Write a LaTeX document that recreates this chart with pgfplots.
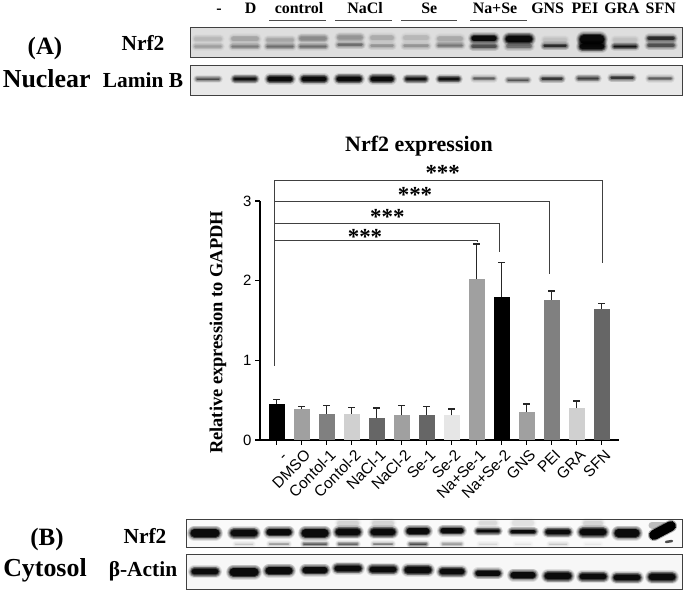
\documentclass[border=0pt]{standalone}
\usepackage{fontspec}
\setmainfont{Liberation Sans}
\newfontfamily\tms{Liberation Serif}
\usepackage{pgfplots}
\pgfplotsset{compat=1.18}

% one stroke of a blot band
\newcommand\bandstroke[2]{%
  \noexpand\addplot[forget plot,black,line cap=round,line width=#1bp,opacity=#2] coordinates {(\bl,\by)(\br,\by)};}
% one blot band: x centre, y, half width, half height, darkness 0..1
\newcommand\band[5]{%
  \edef\bl{\fpeval{#1-#3+#4}}\edef\br{\fpeval{#1+#3-#4}}\edef\by{#2}%
  \edef\tmp{%
    \bandstroke{\fpeval{2*#4+6}}{\fpeval{0.10*#5}}
    \bandstroke{\fpeval{2*#4+4.5}}{\fpeval{0.14*#5}}
    \bandstroke{\fpeval{2*#4+3}}{\fpeval{0.20*#5}}
    \bandstroke{\fpeval{2*#4+1.5}}{\fpeval{0.30*#5}}
    \bandstroke{\fpeval{2*#4}}{\fpeval{0.45*#5}}
    \bandstroke{\fpeval{max(2*#4-1.5,0.5)}}{\fpeval{0.8*#5*#5}}
  }\tmp}

% one bar of the chart: x, value, error, colour
\newcommand\nrfbar[4]{%
  \addplot[ybar,bar width=16bp,bar shift=0pt,fill=#4,draw=none,
    error bars/.cd,y dir=plus,y explicit,
    error bar style={black!85,line width=1.3bp},
    error mark options={rotate=90,mark size=3.5bp,line width=1.3bp,black!85}]
    coordinates {(#1,#2) +- (0,#3)};}

\begin{document}
\begin{tikzpicture}
\useasboundingbox (0,0) rectangle (685bp,592bp);

% blots and their labels, in image pixels
\begin{axis}[at={(0,0)},anchor=south west,scale only axis,width=685bp,height=592bp,
  xmin=0,xmax=685,ymin=0,ymax=592,y dir=reverse,hide axis,clip=false]

\fill[black!13] (axis cs:190.7,27.3) rectangle (axis cs:682.7,57.3);
\fill[black!9] (axis cs:190.7,65.3) rectangle (axis cs:682.7,96);
\fill[black!2] (axis cs:186,519.7) rectangle (axis cs:682.7,547.7);
\fill[black!3] (axis cs:186,554.7) rectangle (axis cs:682.7,589.7);

% Nuclear Nrf2
\band{208}{39}{14}{2}{.13} \band{208}{46.5}{14}{1.5}{.22}
\band{245}{39}{14}{2.5}{.2} \band{245}{46.5}{14}{1.5}{.36}
\band{280}{40}{14}{2}{.2} \band{280}{46.5}{14}{1.5}{.42}
\band{313}{38.5}{14}{2.5}{.3} \band{313}{46.5}{14}{1.5}{.42}
\band{350}{37.5}{13}{2.5}{.26} \band{350}{45}{13}{1.5}{.42}
\band{382}{38}{12}{2.5}{.17} \band{382}{46}{12}{1.5}{.26}
\band{416}{38}{13}{2.5}{.13} \band{416}{46}{13}{1.5}{.26}
\band{450}{39}{13}{2.5}{.18} \band{450}{45.5}{13}{1.5}{.38}
\band{484}{38.5}{13}{3}{1} \band{484}{46.5}{13}{2}{.55}
\band{519}{39}{14}{4}{1} \band{519}{46.5}{13}{2}{.4}
\band{555}{40}{12}{2}{.1} \band{555}{46}{12}{1.5}{.75}
\band{592}{39.5}{13}{5}{1} \band{592}{46.5}{13}{3.5}{1}
\band{625}{40}{12}{2}{.1} \band{625}{46.5}{12}{1.5}{.9}
\band{661}{38.5}{14}{2}{.75} \band{661}{45.5}{14}{2}{.55}

% Nuclear Lamin B
\band{208}{79}{12}{1.2}{.6}
\band{245}{79}{12}{2.2}{.95}
\band{280}{79}{13}{2.8}{1}
\band{314}{79}{13}{2.8}{1}
\band{349}{79}{13}{3}{1}
\band{382}{79}{12}{3}{1}
\band{416}{79}{11}{2.2}{.95}
\band{449}{79}{11}{1.8}{.95}
\band{484}{78.5}{11}{1.2}{.5}
\band{518}{80}{11}{1.2}{.55}
\band{552}{79}{11}{1.5}{.7}
\band{588}{78.5}{11}{1.5}{.65}
\band{622}{78}{12}{1.5}{.7}
\band{660}{78.5}{12}{1.2}{.5}

% Cytosol Nrf2
\band{348}{523}{11}{2.5}{.12} \band{383}{523}{11}{2.5}{.12}
\band{488}{523}{9}{2}{.1} \band{523}{523}{11}{3}{.08} \band{593}{523}{10}{2.5}{.12}
\band{205}{533}{15}{4.5}{1}
\band{244}{533}{14}{4}{1}
\band{279}{532}{13}{3.5}{1}
\band{315}{533}{14}{4.5}{1}
\band{348}{532}{13}{4}{1}
\band{383}{532}{13}{4}{1}
\band{418}{531}{12}{3.5}{1}
\band{452}{530.5}{12}{3}{1}
\band{488}{531}{12}{2}{1}
\band{523}{531.5}{13}{2}{1}
\band{558}{532}{13}{3}{1}
\band{593}{532}{14}{4}{1}
\band{627}{533}{13}{4.5}{1}
\band{244}{544}{9}{.5}{.15} \band{279}{544}{10}{.6}{.3} \band{315}{544}{12}{.8}{.55}
\band{348}{544}{10}{.8}{.5} \band{383}{544}{10}{.7}{.4} \band{418}{544}{9}{1}{.6}
\band{452}{544}{10}{.8}{.3} \band{488}{544}{9}{.5}{.1} \band{523}{544}{8}{.5}{.06}
\band{558}{544}{9}{.5}{.15} \band{593}{544}{8}{.5}{.05}
\addplot[forget plot,black!50,line cap=round,line width=7bp,opacity=.5] coordinates {(652,525)(664,525)};
\addplot[forget plot,black,line cap=round,line width=12bp,opacity=.3] coordinates {(654,535)(671,526)};
\addplot[forget plot,black,line cap=round,line width=10bp] coordinates {(654,535)(671,526)};
\addplot[forget plot,black!70,line cap=round,line width=2.5bp] coordinates {(666,542)(672,541)};

% Cytosol actin
\band{205}{571.7}{14}{3.5}{1}
\band{244}{572}{15}{4.5}{1}
\band{279}{570.7}{14}{4}{1}
\band{315}{570}{13}{3.5}{1}
\band{348}{568.3}{14}{3.5}{1}
\band{383}{569.3}{14}{3.5}{1}
\band{418}{570}{14}{3.8}{1}
\band{452}{571.7}{13}{3.5}{1}
\band{488}{573.3}{13}{3}{1}
\band{523}{575}{13}{3.5}{1}
\band{558}{576}{14}{4}{1}
\band{593}{576.7}{14}{3.5}{1}
\band{627}{577.7}{14}{3.5}{1}
\band{662}{577}{14}{4}{1}

\draw[black!75,line width=1bp] (axis cs:190.7,27.3) rectangle (axis cs:682.7,57.3);
\draw[black!75,line width=1bp] (axis cs:190.7,65.3) rectangle (axis cs:682.7,96);
\draw[black!75,line width=1bp] (axis cs:186,519.7) rectangle (axis cs:682.7,547.7);
\draw[black!75,line width=1bp] (axis cs:186,554.7) rectangle (axis cs:682.7,589.7);

% lane headers
\begin{scope}[every node/.style={font=\tms\bfseries\fontsize{16}{16}\selectfont,inner sep=0pt,anchor=base}]
\node at (axis cs:219,14) {-};
\node at (axis cs:250.7,14) {D};
\node at (axis cs:299,14) {control};
\node at (axis cs:365,14) {NaCl};
\node at (axis cs:429.3,14) {Se};
\node at (axis cs:495,14) {Na+Se};
\node at (axis cs:547.7,14) {GNS};
\node at (axis cs:585,14) {PEI};
\node at (axis cs:622,14) {GRA};
\node at (axis cs:660.7,14) {SFN};
\end{scope}
\draw[black!70,line width=.8bp] (axis cs:269,20) -- (axis cs:326,20);
\draw[black!70,line width=.8bp] (axis cs:335,20) -- (axis cs:392,20);
\draw[black!70,line width=.8bp] (axis cs:401,20) -- (axis cs:457,20);
\draw[black!70,line width=.8bp] (axis cs:470,20) -- (axis cs:527,20);

% row labels
\begin{scope}[every node/.style={font=\tms\bfseries\fontsize{21.5}{21.5}\selectfont,inner sep=0pt,anchor=base}]
\node at (axis cs:143,51) {Nrf2};
\node at (axis cs:143,88) {Lamin B};
\node at (axis cs:145,543.5) {Nrf2};
\node at (axis cs:143,576.5) {β-Actin};
\node[font=\tms\bfseries\fontsize{25}{25}\selectfont] at (axis cs:45,55) {(A)};
\node[font=\tms\bfseries\fontsize{25}{25}\selectfont] at (axis cs:47,545) {(B)};
\node[font=\tms\bfseries\fontsize{26}{26}\selectfont] at (axis cs:46.7,88) {Nuclear};
\node[font=\tms\bfseries\fontsize{26}{26}\selectfont] at (axis cs:45,576) {Cytosol};
\end{scope}

% chart title and stars
\node[font=\tms\bfseries\fontsize{22}{22}\selectfont,inner sep=0pt,anchor=base] at (axis cs:419,151) {Nrf2 expression};
\begin{scope}[every node/.style={font=\tms\bfseries\fontsize{23}{23}\selectfont,inner sep=0pt,anchor=base}]
\node at (axis cs:365,244) {***};
\node at (axis cs:387.3,224) {***};
\node at (axis cs:415,202) {***};
\node at (axis cs:442.7,180.5) {***};
\end{scope}
\end{axis}

% the bar chart
\begin{axis}[at={(260bp,152bp)},anchor=south west,scale only axis,width=359bp,height=239bp,
  xmin=-0.668,xmax=13.69,ymin=0,ymax=3,clip=false,
  axis lines=left,axis line style={-,line width=1.2bp},
  tick align=outside,major tick length=5bp,tick style={black,line width=1.2bp},
  xtick={0,...,13},ytick={0,1,2,3},
  xticklabels={\raisebox{-13bp}{-}\hspace{5bp},DMSO,Contol-1,Contol-2,NaCl-1,NaCl-2,Se-1,Se-2,Na+Se-1,Na+Se-2,GNS,PEI,GRA,SFN},
  xticklabel style={rotate=45,anchor=north east,font=\fontsize{15.5}{15.5}\selectfont,inner sep=0pt,xshift=-1bp,yshift=-4bp},
  yticklabel style={font=\fontsize{15}{15}\selectfont},
  /pgf/number format/assume math mode=true,
  ylabel={\tms\bfseries\fontsize{18.5}{18.5}\selectfont Relative expression to GAPDH},
  ylabel style={at={(axis description cs:-0.117,0.45)},anchor=center}]

\definecolor{g1}{HTML}{A0A0A0}
\definecolor{g2}{HTML}{808080}
\definecolor{g3}{HTML}{D0D0D0}
\definecolor{g4}{HTML}{666666}
\definecolor{g5}{HTML}{E6E6E6}

\nrfbar{0}{0.45}{0.06}{black}
\nrfbar{1}{0.39}{0.03}{g1}
\nrfbar{2}{0.33}{0.10}{g2}
\nrfbar{3}{0.33}{0.08}{g3}
\nrfbar{4}{0.27}{0.13}{g4}
\nrfbar{5}{0.31}{0.125}{g1}
\nrfbar{6}{0.32}{0.10}{g4}
\nrfbar{7}{0.31}{0.08}{g5}
\nrfbar{8}{2.02}{0.44}{g1}
\nrfbar{9}{1.79}{0.44}{black}
\nrfbar{10}{0.35}{0.10}{g1}
\nrfbar{11}{1.76}{0.11}{g2}
\nrfbar{12}{0.40}{0.09}{g3}
\nrfbar{13}{1.65}{0.06}{g4}

% significance brackets
\addplot[forget plot,black!75,line width=.8bp] coordinates {(-0.08,0.93)(-0.08,2.51)(8.02,2.51)(8.02,2.49)};
\addplot[forget plot,black!75,line width=.8bp] coordinates {(-0.08,2.72)(8.9,2.72)(8.9,2.36)};
\addplot[forget plot,black!75,line width=.8bp] coordinates {(-0.08,3.0)(10.92,3.0)(10.92,2.08)};
\addplot[forget plot,black!75,line width=.8bp] coordinates {(-0.08,2.51)(-0.08,3.26)(13.03,3.26)(13.03,2.22)};
\end{axis}
\end{tikzpicture}
\end{document}
